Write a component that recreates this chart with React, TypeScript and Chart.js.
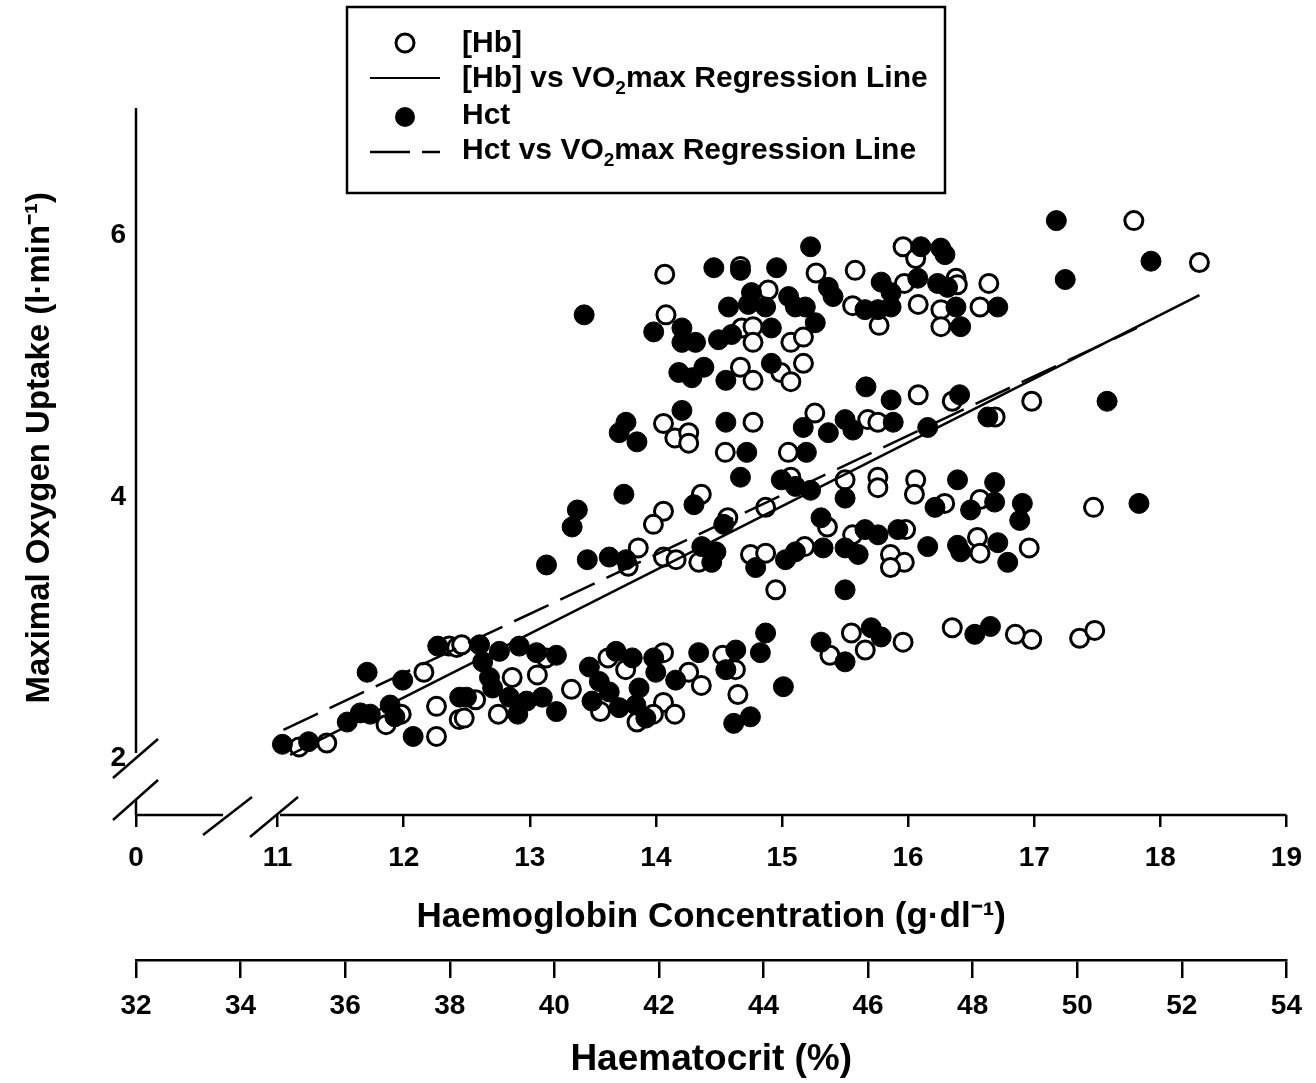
import React, { useEffect, useRef } from 'react';
import { Chart, registerables } from 'chart.js';

Chart.register(...registerables);

// ---------- axis definitions ----------
const HB_TICKS = [0, 11, 12, 13, 14, 15, 16, 17, 18, 19];
const HB_AXIS_START = 9.877; // broken axis: position where the "0" label sits
const HCT_TICKS = [32, 34, 36, 38, 40, 42, 44, 46, 48, 50, 52, 54];
const VO2_TICKS = [2, 4, 6];

// ---------- [Hb] data (open circles) ----------
const HB_X = [
  17.79, 18.31, 16.98, 17.47, 16.96, 16.98, 17.36, 17.48, 16.85,
  15.96, 16.06, 15.58, 15.97, 16.38, 16.39, 16.64, 15.56, 16.08, 16.26, 16.57,
  15.77, 16.26, 16.08, 16.35, 16.69, 15.68, 15.76, 15.5, 15.76, 16.06,
  14.07, 14.67, 14.89, 15.27, 14.08, 14.68, 14.77, 14.77, 15.07, 15.17,
  14.67, 14.77, 14.99, 15.07, 15.17, 14.06, 14.15, 14.26, 14.26, 14.77,
  14.55, 15.26, 15.05, 15.07,
  12.36, 12.42, 12.16, 12.26, 11.86, 11.98, 11.17, 11.39, 12.26, 12.44,
  12.46, 13.13, 12.86, 13.06, 12.57, 13.33, 12.48, 12.75, 13.62, 13.76,
  13.56, 13.85, 13.78, 13.86, 14.36, 14.06, 13.98, 14.57, 14.87, 14.34,
  14.06, 14.16, 14.75, 14.87, 15.18, 14.95, 15.36, 14.06, 14.53, 14.63,
  14.26, 14.36, 14.65, 14.06, 14.15, 13.98, 15.38, 15.76, 16.05, 16.29,
  16.57, 15.56, 15.98, 15.86, 15.97, 15.86, 16.55, 16.57, 15.55, 15.66,
  15.96, 16.35,
];
const HB_Y = [
  6.11, 5.79, 4.73, 3.92, 3.61, 2.91, 2.92, 2.98, 2.95,
  5.91, 5.82, 5.73, 5.63, 5.67, 5.62, 5.63, 5.46, 5.47, 5.43, 5.45,
  5.31, 5.3, 4.78, 4.73, 4.61, 4.59, 4.57, 4.13, 4.15, 4.13,
  5.7, 5.76, 5.58, 5.71, 5.39, 5.29, 5.3, 5.18, 5.18, 5.22,
  4.99, 4.89, 4.95, 4.88, 5.02, 4.56, 4.45, 4.49, 4.41, 4.57,
  4.34, 4.64, 4.34, 4.15,
  2.86, 2.85, 2.66, 2.4, 2.26, 2.34, 2.09, 2.12, 2.17, 2.3,
  2.87, 2.77, 2.62, 2.64, 2.45, 2.53, 2.31, 2.34, 2.77, 2.68,
  2.36, 2.28, 3.47, 3.61, 4.02, 3.89, 3.79, 3.84, 3.92, 3.5,
  3.54, 3.52, 3.56, 3.57, 3.62, 3.29, 3.77, 2.81, 2.79, 2.68,
  2.66, 2.56, 2.49, 2.43, 2.34, 2.34, 2.79, 4.07, 4.02, 3.95,
  3.98, 3.71, 3.75, 3.56, 3.5, 3.46, 3.69, 3.57, 2.96, 2.83,
  2.89, 3.0,
];

// ---------- Hct data (filled circles) ----------
const HCT_X = [
  49.6, 51.41, 49.77, 50.57, 51.18, 48.95, 48.9,
  47.01, 47.39, 47.47, 46.25, 46.44, 46.95, 47.33, 47.52, 45.94, 46.19, 46.44,
  47.68, 48.48, 47.77, 45.96, 46.44, 47.75, 48.29, 45.56, 45.71, 46.48, 47.14,
  47.71, 48.42,
  44.9, 43.05, 43.56, 44.25, 45.24, 45.33, 43.77, 44.48, 44.61, 44.8, 43.33,
  43.71, 44.04, 41.9, 42.44, 42.44, 42.7, 43.14, 43.39, 44.15, 44.99, 42.38,
  42.63, 42.86, 43.28, 44.15, 42.44, 43.28, 43.68, 44.76, 45.24, 44.82, 43.56,
  44.34, 44.61, 44.9, 40.57, 41.37, 41.24, 41.58,
  37.77, 36.42, 37.1, 38.19, 36.04, 36.29, 36.48, 36.86, 36.95, 34.8, 35.3,
  37.3, 41.33, 40.44, 40.34, 39.85, 40.63, 41.05, 41.37, 38.57, 38.63, 38.95,
  39.33, 39.66, 40.04, 38.76, 38.82, 38.32, 39.14, 39.47, 39.77, 40.04, 39.3,
  40.67, 41.18, 41.49, 40.86, 41.05, 41.62, 40.72, 41.24, 41.56, 41.75,
  42.67, 43.24, 42.82, 43.09, 43.01, 43.85, 44.42, 44.61, 45.14, 45.1, 44.04,
  41.9, 42.76, 43.47, 43.94, 43.28, 41.94, 42.32, 44.38, 43.43, 43.75, 45.1,
  45.56, 47.28, 47.96, 48.42, 45.56, 45.94, 46.19, 46.57, 45.81, 47.14, 47.71,
  47.77, 48.48, 48.67, 45.56, 46.06, 46.25, 45.56, 48.04, 48.34,
];
const HCT_Y = [
  6.11, 5.8, 5.66, 4.73, 3.95, 3.95, 3.82,
  5.91, 5.9, 5.85, 5.64, 5.56, 5.67, 5.63, 5.6, 5.43, 5.43, 5.45,
  5.45, 5.45, 5.3, 4.84, 4.74, 4.78, 4.61, 4.59, 4.51, 4.57, 4.53,
  4.13, 4.11,
  5.91, 5.75, 5.73, 5.75, 5.6, 5.53, 5.56, 5.53, 5.45, 5.45, 5.45,
  5.47, 5.45, 5.26, 5.29, 5.18, 5.18, 5.2, 5.24, 5.29, 5.33, 4.95,
  4.91, 4.99, 4.89, 5.02, 4.66, 4.57, 4.34, 4.53, 4.49, 4.34, 4.15,
  4.13, 4.08, 4.05, 5.39, 4.57, 4.49, 4.42,
  2.86, 2.66, 2.6, 2.47, 2.28, 2.35, 2.34, 2.41, 2.32, 2.11, 2.13,
  2.17, 4.02, 3.9, 3.77, 3.48, 3.52, 3.54, 3.52, 2.87, 2.74, 2.82,
  2.86, 2.81, 2.79, 2.62, 2.54, 2.47, 2.47, 2.44, 2.47, 2.36, 2.34,
  2.7, 2.82, 2.77, 2.59, 2.51, 2.54, 2.44, 2.39, 2.41, 2.31,
  3.94, 3.79, 3.62, 3.58, 3.5, 3.46, 3.52, 3.58, 3.61, 3.84, 2.96,
  2.77, 2.81, 2.83, 2.81, 2.68, 2.66, 2.6, 2.55, 2.27, 2.32, 2.89,
  3.99, 3.92, 3.9, 3.96, 3.61, 3.75, 3.71, 3.75, 3.56, 3.62, 3.63,
  3.58, 3.65, 3.5, 3.29, 3.0, 2.93, 2.74, 2.95, 3.01,
];

// ---------- regression lines ----------
const HB_LINE_X = [11.1, 18.31];
const HB_LINE_Y = [2.03, 5.54];
const HCT_LINE_X = [34.82, 51.14];
const HCT_LINE_Y = [2.22, 5.29];

const FONT = "'Liberation Sans', Arial, Helvetica, sans-serif";

const decorPlugin = {
  id: 'decor',
  afterDraw(chart: any) {
    const ctx = chart.ctx as CanvasRenderingContext2D;
    const { left: L, bottom: B, top: T, right: R } = chart.chartArea;
    ctx.save();
    ctx.strokeStyle = '#000';
    ctx.fillStyle = '#000';
    ctx.lineWidth = 2.5;
    ctx.lineCap = 'butt';
    const seg = (x1: number, y1: number, x2: number, y2: number) => {
      ctx.beginPath();
      ctx.moveTo(x1, y1);
      ctx.lineTo(x2, y2);
      ctx.stroke();
    };
    // y axis with break
    seg(L, T, L, B - 62);
    seg(L - 23, B - 37, L + 22, B - 76);
    seg(L - 23, B + 5, L + 22, B - 35);
    seg(L, B - 15, L, B);
    // x axis with break
    seg(L, B, L + 87, B);
    seg(L + 67, B + 20, L + 116, B - 18);
    seg(L + 114, B + 22, L + 162, B - 18);
    seg(L + 144, B, R, B);

    // legend box
    ctx.lineWidth = 2.5;
    ctx.strokeRect(347, 7, 598, 186);
    // open circle
    ctx.lineWidth = 3;
    ctx.beginPath();
    ctx.arc(405, 43, 9, 0, Math.PI * 2);
    ctx.fillStyle = '#fff';
    ctx.fill();
    ctx.stroke();
    // solid line
    ctx.lineWidth = 2;
    seg(370, 78, 440, 78);
    // filled circle
    ctx.fillStyle = '#000';
    ctx.beginPath();
    ctx.arc(405, 117, 10, 0, Math.PI * 2);
    ctx.fill();
    // dashed line
    ctx.lineWidth = 2.5;
    seg(370, 152, 410, 152);
    seg(422, 152, 440, 152);

    const big = `bold 30px ${FONT}`;
    const small = `bold 19px ${FONT}`;
    ctx.textBaseline = 'middle';
    ctx.textAlign = 'left';
    const drawSub = (pre: string, post: string, x: number, y: number) => {
      ctx.font = big;
      ctx.fillText(pre, x, y);
      let cx = x + ctx.measureText(pre).width;
      ctx.font = small;
      ctx.fillText('2', cx, y + 10);
      cx += ctx.measureText('2').width;
      ctx.font = big;
      ctx.fillText(post, cx, y);
    };
    ctx.font = big;
    ctx.fillText('[Hb]', 462, 44);
    drawSub('[Hb] vs VO', 'max Regression Line', 462, 79);
    ctx.font = big;
    ctx.fillText('Hct', 462, 116);
    drawSub('Hct vs VO', 'max Regression Line', 462, 151);
    ctx.restore();
  },
};

export default function App() {
  const ref = useRef<HTMLCanvasElement | null>(null);
  useEffect(() => {
    if (!ref.current) return;
    const tickFont = { family: FONT, size: 28, weight: 'bold' as const };
    const chart = new Chart(ref.current, {
      type: 'scatter',
      data: {
        datasets: [
          {
            label: 'Hb regression',
            data: HB_LINE_X.map((x, i) => ({ x, y: HB_LINE_Y[i] })),
            xAxisID: 'x',
            showLine: true,
            pointRadius: 0,
            borderColor: '#000',
            borderWidth: 2.5,
            order: -2,
          },
          {
            label: 'Hct regression',
            data: HCT_LINE_X.map((x, i) => ({ x, y: HCT_LINE_Y[i] })),
            xAxisID: 'x2',
            showLine: true,
            pointRadius: 0,
            borderColor: '#000',
            borderWidth: 2.5,
            borderDash: [38, 13],
            order: -1,
          },
          {
            label: 'Hct',
            data: HCT_X.map((x, i) => ({ x, y: HCT_Y[i] })),
            xAxisID: 'x2',
            pointRadius: 10,
            pointBackgroundColor: '#000',
            pointBorderColor: '#000',
            pointBorderWidth: 1,
            order: 0,
          },
          {
            label: '[Hb]',
            data: HB_X.map((x, i) => ({ x, y: HB_Y[i] })),
            xAxisID: 'x',
            pointRadius: 9,
            pointBackgroundColor: '#fff',
            pointBorderColor: '#000',
            pointBorderWidth: 3,
            order: 1,
          },
        ],
      },
      options: {
        responsive: false,
        animation: false,
        events: [],
        layout: { padding: { top: 108, right: 26, left: 0, bottom: 0 } },
        plugins: { legend: { display: false }, tooltip: { enabled: false } },
        scales: {
          x: {
            type: 'linear',
            position: 'bottom',
            weight: 0,
            min: HB_AXIS_START,
            max: 19,
            afterBuildTicks: (s: any) => {
              s.ticks = HB_TICKS.map((v) => ({ value: v === 0 ? HB_AXIS_START : v }));
            },
            afterFit: (s: any) => {
              s.height = 145;
            },
            border: { display: false },
            grid: {
              display: true,
              drawOnChartArea: false,
              drawTicks: true,
              tickLength: 12,
              color: '#000',
              lineWidth: 2.5,
            },
            ticks: {
              color: '#000',
              font: tickFont,
              padding: 14,
              maxRotation: 0,
              autoSkip: false,
              callback: (v: any) => (Math.abs(v - HB_AXIS_START) < 1e-6 ? '0' : String(v)),
            },
            title: {
              display: true,
              text: 'Haemoglobin Concentration (g·dl⁻¹)',
              color: '#000',
              font: { family: FONT, size: 35, weight: 'bold' as const },
              padding: { top: 0, bottom: 22 },
            },
          },
          x2: {
            type: 'linear',
            position: 'bottom',
            weight: 1,
            min: 32,
            max: 54,
            afterBuildTicks: (s: any) => {
              s.ticks = HCT_TICKS.map((v) => ({ value: v }));
            },
            afterFit: (s: any) => {
              s.height = 123;
            },
            border: { display: true, color: '#000', width: 2.5 },
            grid: {
              display: true,
              drawOnChartArea: false,
              drawTicks: true,
              tickLength: 18,
              color: '#000',
              lineWidth: 2.5,
            },
            ticks: {
              color: '#000',
              font: tickFont,
              padding: 11,
              maxRotation: 0,
              autoSkip: false,
            },
            title: {
              display: true,
              text: 'Haematocrit (%)',
              color: '#000',
              font: { family: FONT, size: 37, weight: 'bold' as const },
              padding: { top: 0, bottom: 1 },
            },
          },
          y: {
            type: 'linear',
            position: 'left',
            min: 1.57,
            max: 6.97,
            afterBuildTicks: (s: any) => {
              s.ticks = VO2_TICKS.map((v) => ({ value: v }));
            },
            afterFit: (s: any) => {
              s.width = 136;
            },
            border: { display: false },
            grid: { display: false, drawTicks: false },
            ticks: { color: '#000', font: tickFont, padding: 10 },
            title: {
              display: true,
              text: '   Maximal Oxygen Uptake (l·min⁻¹)',
              color: '#000',
              font: { family: FONT, size: 33, weight: 'bold' as const },
              padding: { top: 20, bottom: 0 },
            },
          },
        },
      },
      plugins: [decorPlugin],
    });
    return () => chart.destroy();
  }, []);

  return (
    <div style={{ position: 'absolute', left: 0, top: 0, width: 1316, height: 1083, background: '#fff' }}>
      <canvas ref={ref} width={1316} height={1083} style={{ display: 'block' }} />
    </div>
  );
}
